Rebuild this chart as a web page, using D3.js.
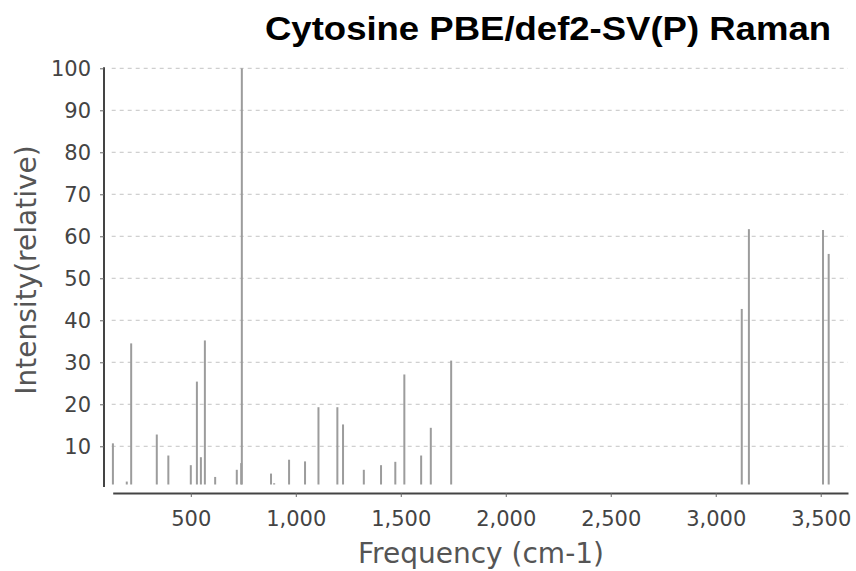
<!DOCTYPE html>
<html>
<head>
<meta charset="utf-8">
<script src="https://cdn.jsdelivr.net/npm/d3@7"></script>
<style>
  body { margin: 0; background: #fff; }
  .tick text { font-family: "DejaVu Sans", Verdana, sans-serif; }
</style>
</head>
<body>
<div id="chart"></div>
<script>
// Raman lines: frequency (cm-1) and relative intensity
const freqs = [129, 195, 216, 338, 393, 500, 529, 548, 567, 616, 719, 740, 743, 882, 897,
    968, 1044, 1108, 1198, 1225, 1324, 1406, 1474, 1517, 1597, 1643, 1740,
    3124, 3158, 3511, 3538];
const intensities = [10.7, 1.6, 34.5, 12.8, 7.8, 5.5, 25.4, 7.4, 35.2, 2.7, 4.4, 6.0, 100, 3.5, 1.2,
    6.8, 6.4, 19.3, 19.3, 15.2, 4.4, 5.5, 6.3, 27.1, 7.8, 14.4, 30.4,
    42.7, 61.7, 61.5, 55.8];
const xTicks = [500, 1000, 1500, 2000, 2500, 3000, 3500];
const yTicks = [10, 20, 30, 40, 50, 60, 70, 80, 90, 100];

const width = 856, height = 571;
const plot = { left: 112.7, right: 848, top: 68.3, bottom: 484.5 };

const svg = d3.select("#chart").append("svg")
    .attr("width", width)
    .attr("height", height);

svg.append("rect").attr("width", width).attr("height", height).attr("fill", "#fff");

const x = d3.scaleLinear().domain([128, 3630]).range([plot.left, plot.right]);
const y = d3.scaleLinear().domain([0.9, 100]).range([plot.bottom, plot.top]);

// horizontal dashed gridlines
svg.append("g").selectAll("line")
    .data(yTicks)
    .enter().append("line")
    .attr("x1", plot.left - 1)
    .attr("x2", plot.right)
    .attr("y1", d => y(d))
    .attr("y2", d => y(d))
    .attr("stroke", "#c4c4c4")
    .attr("stroke-width", 1)
    .attr("stroke-dasharray", "4,4");

// bars
const data = freqs.map((f, i) => ({ f: f, v: intensities[i] }));
svg.append("g").selectAll("rect")
    .data(data)
    .enter().append("rect")
    .attr("x", d => x(d.f) - 1)
    .attr("width", 2)
    .attr("y", d => y(d.v))
    .attr("height", d => y(y.domain()[0]) - y(d.v))
    .attr("fill", "#9c9c9c");

// y axis, sits a few pixels left of the plot
const yAxis = svg.append("g")
    .attr("transform", "translate(104,0)")
    .call(d3.axisLeft(y).tickValues(yTicks).tickSizeInner(4).tickSizeOuter(0).tickPadding(9));
yAxis.select(".domain").attr("stroke", "#444").attr("stroke-width", 2)
    .attr("d", "M0," + (plot.top - 1) + "V" + (plot.bottom + 2.5));
yAxis.selectAll(".tick line").attr("stroke", "#666");
yAxis.selectAll(".tick text").attr("font-size", 21).attr("fill", "#444");

// x axis, a few pixels below the plot
const xAxis = svg.append("g")
    .attr("transform", "translate(0,493)")
    .call(d3.axisBottom(x).tickValues(xTicks).tickFormat(d3.format(",")).tickSizeInner(4).tickSizeOuter(0).tickPadding(14));
xAxis.select(".domain").attr("stroke", "#444").attr("stroke-width", 2);
xAxis.selectAll(".tick line").attr("stroke", "#666");
xAxis.selectAll(".tick text").attr("font-size", 21).attr("fill", "#444");

// axis titles
svg.append("text")
    .attr("x", 481)
    .attr("y", 563)
    .attr("text-anchor", "middle")
    .attr("font-family", "DejaVu Sans, Verdana, sans-serif")
    .attr("font-size", 28)
    .attr("fill", "#555")
    .text("Frequency (cm-1)");

svg.append("text")
    .attr("transform", "translate(36,270) rotate(-90)")
    .attr("text-anchor", "middle")
    .attr("font-family", "DejaVu Sans, Verdana, sans-serif")
    .attr("font-size", 28)
    .attr("fill", "#555")
    .text("Intensity(relative)");

// title
svg.append("text")
    .attr("x", 831)
    .attr("y", 40)
    .attr("text-anchor", "end")
    .attr("font-family", "Liberation Sans, Arial, sans-serif")
    .attr("font-weight", "bold")
    .attr("font-size", 34)
    .attr("textLength", 566)
    .attr("lengthAdjust", "spacingAndGlyphs")
    .attr("fill", "#000")
    .text("Cytosine PBE/def2-SV(P) Raman");
</script>
</body>
</html>
